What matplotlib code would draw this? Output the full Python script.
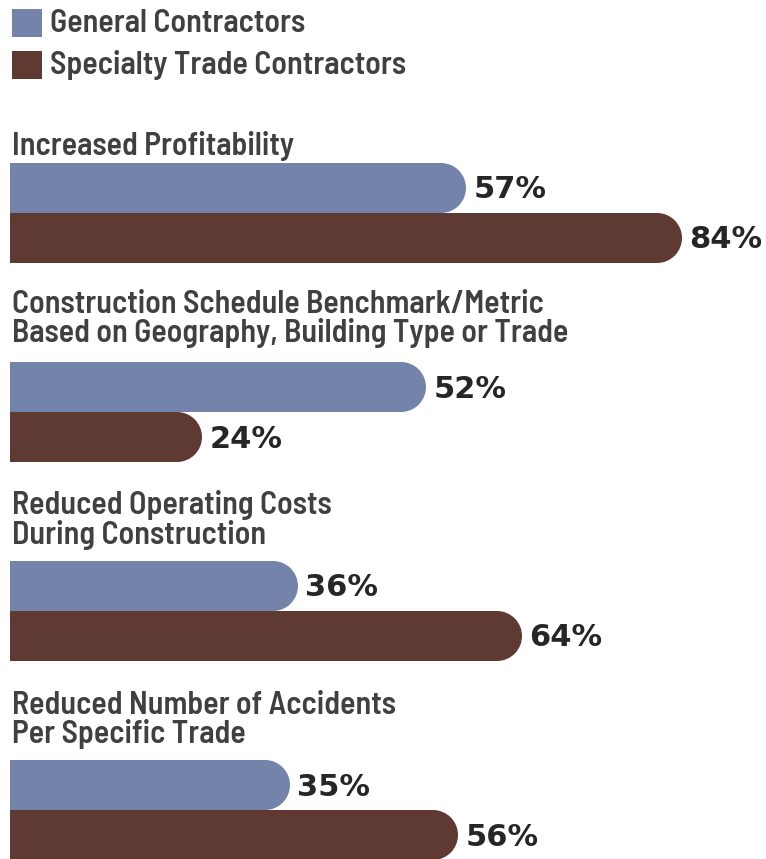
import matplotlib.pyplot as plt
from matplotlib.patches import Ellipse, Rectangle

categories = [
    "Increased Profitability",
    "Construction Schedule Benchmark/Metric\nBased on Geography, Building Type or Trade",
    "Reduced Operating Costs\nDuring Construction",
    "Reduced Number of Accidents\nPer Specific Trade",
]
series_names = ["General Contractors", "Specialty Trade Contractors"]
general = [57, 52, 36, 35]
specialty = [84, 24, 64, 56]

blue = "#7483a9"
brown = "#5f3a33"
text_col = "#404040"
label_font = dict(family=["Barlow Semi Condensed", "DejaVu Sans"], fontsize=23,
                  fontweight=600)

W, H = 766, 859
fig = plt.figure(figsize=(W / 100, H / 100), dpi=100)
ax = fig.add_axes([0, 0, 1, 1])
ax.set_axis_off()

# x in percent, y in pixels from the top
x0, scale = 10, 8.0
ax.set_xlim(-x0 / scale, (W - x0) / scale)
ax.set_ylim(H, 0)

bar_h = 50
r = (bar_h / 2) / scale  # cap radius in percent units
group_mid = [213, 412, 611, 810]
label_y = [146, 319, 520, 720]

def rounded_bar(y, v, color):
    ax.barh(y, v - r, height=bar_h, left=0, color=color, linewidth=0)
    ax.add_patch(Ellipse((v - r, y), 2 * r, bar_h, color=color, linewidth=0))
    ax.text(v + 0.9, y + 2, f"{v}%", ha="left", va="center",
            fontsize=22, fontweight="bold", color="#262626")

for i, cat in enumerate(categories):
    ax.text(0.2, label_y[i], cat, ha="left", va="center",
            color=text_col, linespacing=0.98, **label_font)
    rounded_bar(group_mid[i] - bar_h / 2, general[i], blue)
    rounded_bar(group_mid[i] + bar_h / 2, specialty[i], brown)

# legend
for j, (name, col) in enumerate(zip(series_names, [blue, brown])):
    yc = 23 + j * 42
    ax.add_patch(Rectangle((2 / scale, yc - 14), 30 / scale, 28, color=col, linewidth=0))
    ax.text(40 / scale, yc, name, ha="left", va="center",
            color=text_col, **label_font)

fig.savefig("out.png", dpi=100)
